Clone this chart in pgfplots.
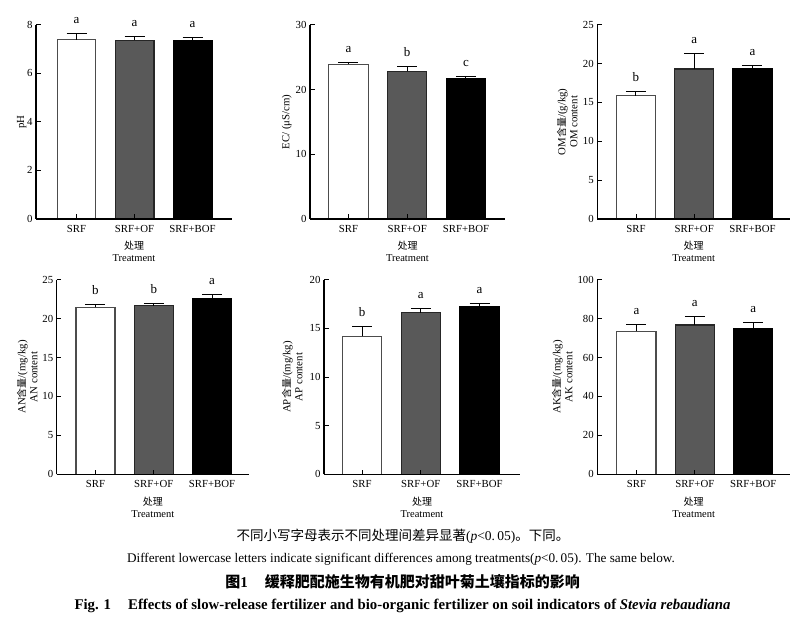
\documentclass[border=0pt]{standalone}
\usepackage{fontspec}
\setmainfont{Liberation Serif}
\newfontfamily\cjk{Noto Sans CJK SC}
\usepackage{pgfplots}
\pgfplotsset{compat=1.18}

\definecolor{ofgray}{HTML}{595959}

\pgfplotsset{
  panel/.style={
    scale only axis,
    axis on top,
    axis lines=left,
    axis line style={-, line width=1.1pt, black},
    tick align=inside,
    major tick length=4.5pt,
    tick style={black, line width=0.9pt},
    xtick={0,1,2},
    xticklabels={SRF,SRF+OF,SRF+BOF},
    ymin=0,
    clip=false,
    enlargelimits=false,
    ticklabel style={font=\fontsize{10.8}{12}\selectfont},
    xticklabel style={yshift=-3pt},
    /pgf/number format/assume math mode=true,
    xlabel={{\cjk\fontsize{10}{12}\selectfont 处理}\\Treatment},
    xlabel style={align=center, anchor=center, font=\fontsize{10.5}{12}\selectfont},
    ylabel style={align=center, anchor=center, font=\fontsize{10.8}{12}\selectfont},
  },
  barA/.style={ybar, bar width=0.67, bar shift=0pt, fill=white, draw=black!70, line width=1.1pt,
    error bars/.cd, y dir=plus, y explicit,
    error bar style={line width=1pt, black},
    error mark options={rotate=90, mark size=10pt, line width=1pt, black}},
  barB/.style={ybar, bar width=0.67, bar shift=0pt, fill=ofgray, draw=black!85, line width=1.1pt,
    error bars/.cd, y dir=plus, y explicit,
    error bar style={line width=1pt, black},
    error mark options={rotate=90, mark size=10pt, line width=1pt, black}},
  barC/.style={ybar, bar width=0.67, bar shift=0pt, fill=black, draw=black, line width=1.1pt,
    error bars/.cd, y dir=plus, y explicit,
    error bar style={line width=1pt, black},
    error mark options={rotate=90, mark size=10pt, line width=1pt, black}},
  letters/.style={draw=none, mark=none, nodes near coords, point meta=explicit symbolic,
    nodes near coords style={anchor=base, yshift=10pt, inner sep=0pt, font=\fontsize{13}{13}\selectfont}},
}

\begin{document}
\begin{tikzpicture}
\useasboundingbox (0pt,0pt) rectangle (809pt,622pt);

% ---------- pH ----------
\begin{axis}[panel, at={(36pt,403pt)}, anchor=south west, width=196pt, height=194.3pt,
  xmin=-0.698, xmax=2.68, ymax=8, ytick={0,2,4,6,8},
  ylabel={pH}, ylabel style={at={(axis description cs:-0.073,0.5)}},
  xlabel style={at={(axis description cs:0.5,-0.165)}}]
\addplot[barA] coordinates {(0,7.38) +- (0,0.25)};
\addplot[barB] coordinates {(1,7.36) +- (0,0.16)};
\addplot[barC] coordinates {(2,7.34) +- (0,0.13)};
\addplot[letters] coordinates {(0,7.63) [a] (1,7.52) [a] (2,7.47) [a]};
\end{axis}

% ---------- EC ----------
\begin{axis}[panel, at={(310pt,403pt)}, anchor=south west, width=195pt, height=194.3pt,
  xmin=-0.655, xmax=2.664, ymax=30, ytick={0,10,20,30},
  ylabel={EC/ (μS/cm)}, ylabel style={at={(axis description cs:-0.119,0.5)}},
  xlabel style={at={(axis description cs:0.5,-0.165)}}]
\addplot[barA] coordinates {(0,23.9) +- (0,0.3)};
\addplot[barB] coordinates {(1,22.8) +- (0,0.8)};
\addplot[barC] coordinates {(2,21.7) +- (0,0.3)};
\addplot[letters] coordinates {(0,24.2) [a] (1,23.6) [b] (2,22.0) [c]};
\end{axis}

% ---------- OM ----------
\begin{axis}[panel, at={(597.3pt,403pt)}, anchor=south west, width=192.7pt, height=194.3pt,
  xmin=-0.664, xmax=2.644, ymax=25, ytick={0,5,10,15,20,25},
  ylabel={OM{\cjk\fontsize{10}{12}\selectfont 含量}/(g/kg)\\OM content}, ylabel style={at={(axis description cs:-0.156,0.5)}},
  xlabel style={at={(axis description cs:0.5,-0.165)}}]
\addplot[barA] coordinates {(0,15.86) +- (0,0.52)};
\addplot[barB] coordinates {(1,19.3) +- (0,2.0)};
\addplot[barC] coordinates {(2,19.3) +- (0,0.4)};
\addplot[letters] coordinates {(0,16.38) [b] (1,21.3) [a] (2,19.7) [a]};
\end{axis}

% ---------- AN ----------
\begin{axis}[panel, at={(56.7pt,147.7pt)}, anchor=south west, width=192.3pt, height=194.6pt,
  xmin=-0.666, xmax=2.635, ymax=25, ytick={0,5,10,15,20,25},
  ylabel={AN{\cjk\fontsize{10}{12}\selectfont 含量}/(mg/kg)\\AN content}, ylabel style={at={(axis description cs:-0.153,0.5)}},
  xlabel style={at={(axis description cs:0.5,-0.169)}}]
\addplot[barA] coordinates {(0,21.45) +- (0,0.38)};
\addplot[barB] coordinates {(1,21.66) +- (0,0.30)};
\addplot[barC] coordinates {(2,22.6) +- (0,0.56)};
\addplot[letters] coordinates {(0,21.83) [b] (1,21.96) [b] (2,23.16) [a]};
\end{axis}

% ---------- AP ----------
\begin{axis}[panel, at={(324pt,147.7pt)}, anchor=south west, width=196pt, height=194.6pt,
  xmin=-0.647, xmax=2.689, ymax=20, ytick={0,5,10,15,20},
  ylabel={AP{\cjk\fontsize{10}{12}\selectfont 含量}/(mg/kg)\\AP content}, ylabel style={at={(axis description cs:-0.162,0.5)}},
  xlabel style={at={(axis description cs:0.5,-0.169)}}]
\addplot[barA] coordinates {(0,14.18) +- (0,0.96)};
\addplot[barB] coordinates {(1,16.61) +- (0,0.48)};
\addplot[barC] coordinates {(2,17.23) +- (0,0.30)};
\addplot[letters] coordinates {(0,15.14) [b] (1,17.09) [a] (2,17.53) [a]};
\end{axis}

% ---------- AK ----------
\begin{axis}[panel, at={(597.3pt,147.7pt)}, anchor=south west, width=192.7pt, height=194.6pt,
  xmin=-0.67, xmax=2.63, ymax=100, ytick={0,20,40,60,80,100},
  ylabel={AK{\cjk\fontsize{10}{12}\selectfont 含量}/(mg/kg)\\AK content}, ylabel style={at={(axis description cs:-0.182,0.5)}},
  xlabel style={at={(axis description cs:0.5,-0.169)}}]
\addplot[barA] coordinates {(0,73.6) +- (0,3.3)};
\addplot[barB] coordinates {(1,76.7) +- (0,4.3)};
\addplot[barC] coordinates {(2,74.8) +- (0,3.1)};
\addplot[letters] coordinates {(0,76.9) [a] (1,81.0) [a] (2,77.9) [a]};
\end{axis}

% ---------- captions ----------
\node[font=\fontsize{13.5}{15}\selectfont, inner sep=0pt] at (403pt,86pt)
  {{\cjk 不同小写字母表示不同处理间差异显著}(\textit{p}<0.\,05){\cjk 。下同。}};
\node[font=\fontsize{13.2}{15}\selectfont, inner sep=0pt] at (401pt,63pt)
  {Different lowercase letters indicate significant differences among treatments(\textit{p}<0.\,05). The same below.};
\node[font=\fontsize{15}{17}\selectfont\bfseries, inner sep=0pt] at (402.5pt,40pt)
  {{\cjk\bfseries 图}1\hspace{17pt}{\cjk\bfseries 缓释肥配施生物有机肥对甜叶菊土壤指标的影响}};
\node[font=\fontsize{14.8}{16}\selectfont\bfseries, inner sep=0pt] at (402.5pt,16pt)
  {Fig. 1\hspace{17pt}Effects of slow-release fertilizer and bio-organic fertilizer on soil indicators of \textit{Stevia rebaudiana}};
\end{tikzpicture}
\end{document}
